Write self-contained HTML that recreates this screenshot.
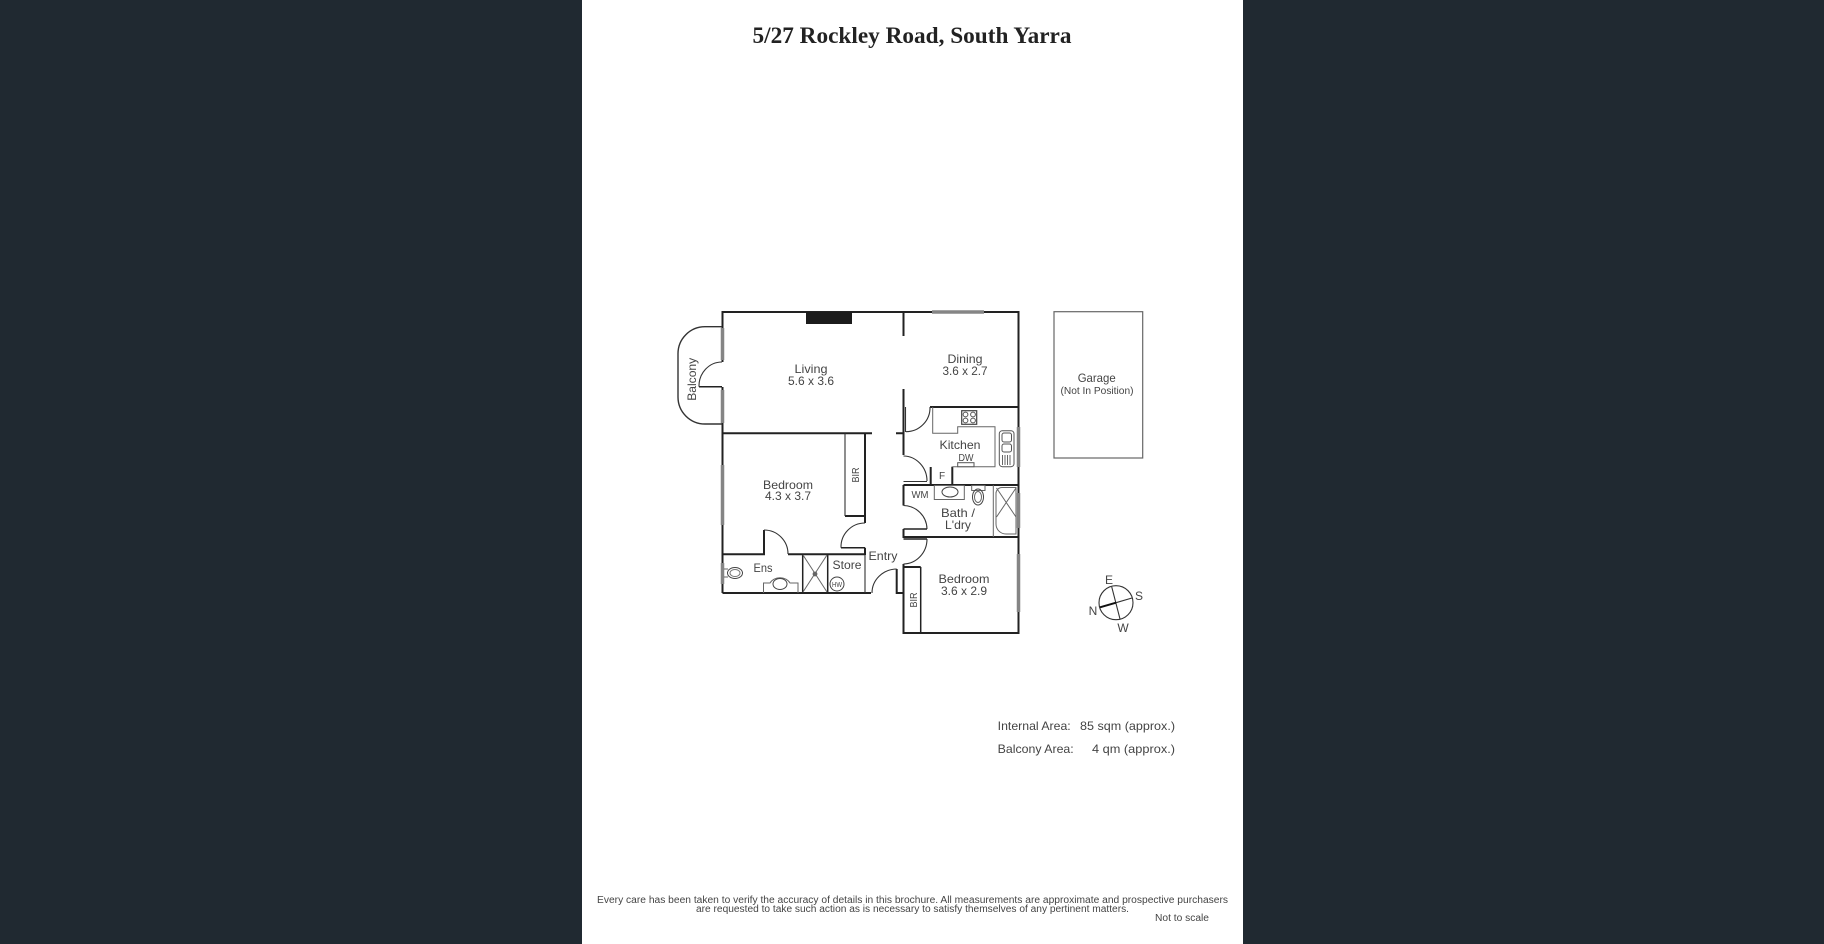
<!DOCTYPE html>
<html><head><meta charset="utf-8"><title>5/27 Rockley Road, South Yarra</title>
<style>
html,body{margin:0;padding:0;background:#202931;width:1824px;height:944px;overflow:hidden}
svg{display:block}
.c{filter:blur(0.35px)}
text{font-family:"Liberation Sans",sans-serif;fill:#444;font-size:12px;text-anchor:middle}
.s{font-size:10px}
.l{text-anchor:start}
.w{fill:none;stroke:#222;stroke-width:2}
.m{fill:none;stroke:#222;stroke-width:1.5}
.t{fill:none;stroke:#333;stroke-width:1.1}
.g{fill:none;stroke:#666;stroke-width:1}
.win{fill:none;stroke:#858585;stroke-width:3.5}
</style></head><body>
<svg width="1824" height="944" viewBox="0 0 1824 944" xmlns="http://www.w3.org/2000/svg">
<rect width="1824" height="944" fill="#202931"/>
<rect x="582" y="0" width="661" height="944" fill="#fff"/>
<g class="c">
<text x="912" y="43" textLength="319" lengthAdjust="spacingAndGlyphs" style="font-family:'Liberation Serif',serif;font-weight:bold;font-size:23px;fill:#222">5/27 Rockley Road, South Yarra</text>

<!-- outer walls -->
<path class="w" d="M722.5 362V312H932M984 312H1018.5V427M1018.5 467V493M1018.5 528V554M1018.5 612V633H903.5V564"/>
<path class="w" d="M722.5 387V465M722.5 525V563M722.5 584V593"/>
<path class="w" d="M903.5 312V336M903.5 389V455M903.5 485H1018.5M903.5 485V505.5M903.5 529V537H1018.5"/>
<path class="w" d="M722.5 433.3H872M896 433.3H903.5"/>
<path class="w" d="M722.5 593H871M896.7 569V593H903.5"/>
<path class="w" d="M845 516H865M865 433.3V523M865 547.7V555"/>
<path class="w" d="M722.5 554.3H764V530M788 554.3H865"/>
<path class="w" d="M903.5 567H920.7"/>
<path class="m" d="M920.7 567V633"/>
<path class="w" d="M930 407H1018.5"/>
<path class="w" d="M952.3 466.7V485"/>
<path class="w" d="M930.7 467V485"/>
<path class="m" d="M802.7 554V593M827.7 554V593"/>
<rect x="806" y="312" width="46" height="12" fill="#1c1c1c"/>
<!-- windows -->
<path class="win" d="M932 312H984M722.5 328V360M722.5 390V423M722.5 465V525M722.5 563V584M1018.5 427V467M1018.5 493V528M1018.5 554V612"/>
<!-- thin partitions -->
<path class="t" d="M845 433.3V516M865 555V593M905.5 407V432"/>
<!-- balcony -->
<path class="t" style="stroke-width:1.4" d="M722 326.7H705A27 27 0 0 0 678 354V397A27 27 0 0 0 705 424H722"/>
<path class="t" d="M722 362A23 24 0 0 0 699 386.7"/>
<path class="m" d="M699 386.7H722"/>
<!-- doors -->
<path class="t" d="M930 407A24 24 0 0 1 906 431.7"/>
<path class="t" d="M903.5 456A24 25 0 0 1 927 481M903.5 481.5H927"/>
<path class="t" d="M903.5 505.5A24 24 0 0 1 927 529"/>
<path class="m" d="M903.5 529H927M903.5 539H927"/>
<path class="t" d="M927 539A24 25 0 0 1 903.5 564"/>
<path class="t" d="M896.7 569A25 24 0 0 0 872 593"/>
<path class="t" d="M865 523A24 24 0 0 0 841 547.7"/>
<path class="m" d="M841 547.7H865"/>
<path class="t" d="M764 530A24 24 0 0 1 788 554"/>
<!-- kitchen bench -->
<path class="g" d="M932.7 407V433.3H957.7V426.7H995V466.7H952.3"/>
<rect x="961.7" y="410.7" width="15" height="13.6" fill="#fff" stroke="#444" stroke-width="1.2"/>
<g fill="none" stroke="#555" stroke-width="1"><circle cx="965.5" cy="414.5" r="2.4"/><circle cx="973" cy="414.5" r="2.4"/><circle cx="965.5" cy="420.5" r="2.4"/><circle cx="973" cy="420.5" r="2.4"/></g>
<rect x="999.3" y="430.7" width="14.7" height="36" rx="3" fill="#fff" stroke="#555"/>
<rect x="1002" y="433" width="9.5" height="9" rx="2" fill="none" stroke="#555"/>
<rect x="1002" y="444" width="9.5" height="8" rx="2" fill="none" stroke="#555"/>
<path class="g" d="M1002.5 455V465M1005 455V465M1007.5 455V465M1010 455V465"/>
<rect x="957.7" y="462.7" width="16.3" height="4" fill="#fff" stroke="#555"/>
<!-- bath -->
<rect x="934.3" y="485.5" width="30" height="14" fill="#fff" stroke="#666"/>
<ellipse cx="950" cy="492" rx="8" ry="5" fill="none" stroke="#444"/>
<rect x="971.7" y="485.5" width="13.3" height="5" fill="#fff" stroke="#666"/>
<ellipse cx="978" cy="497" rx="5.5" ry="8" fill="none" stroke="#444"/>
<ellipse cx="978" cy="497" rx="3.5" ry="5.5" fill="none" stroke="#666"/>
<path class="g" d="M993.3 485V537"/>
<path class="g" d="M996 494A6 6 0 0 1 1002 487.5H1016V534H1006A10 10 0 0 1 996 524Z"/>
<path class="g" d="M996.5 488L1016 517M1016 488L996.5 517"/>
<!-- ensuite -->
<ellipse cx="735" cy="573" rx="7.5" ry="5.5" fill="none" stroke="#444"/>
<ellipse cx="735" cy="573" rx="5" ry="3.5" fill="none" stroke="#777"/>
<path class="g" d="M724 569H728M724 577H728"/>
<path class="g" d="M763.5 593V583H770A11 9 0 0 1 790 583H798V593"/>
<ellipse cx="780" cy="584" rx="7" ry="5.5" fill="none" stroke="#444"/>
<path class="g" d="M803 555L827 592M827 555L803 592"/>
<circle cx="815" cy="574" r="2.4" fill="#666"/>
<circle cx="837" cy="584" r="7" fill="none" stroke="#444"/>
<!-- garage -->
<rect x="1054" y="311.7" width="88.7" height="146.3" fill="none" stroke="#666" stroke-width="1.2"/>
<!-- compass -->
<circle cx="1116" cy="602.7" r="17" fill="none" stroke="#333" stroke-width="1.1"/>
<path class="t" d="M1116 602.7L1132 598M1111.7 586.7L1120 619"/>
<path stroke="#111" stroke-width="2" d="M1100 607.3L1116 602.7"/>

<!-- labels -->
<text x="811" y="373" textLength="33" lengthAdjust="spacingAndGlyphs">Living</text>
<text x="811" y="385" textLength="46" lengthAdjust="spacingAndGlyphs">5.6 x 3.6</text>
<text x="965" y="363" textLength="35" lengthAdjust="spacingAndGlyphs">Dining</text>
<text x="965" y="375" textLength="45" lengthAdjust="spacingAndGlyphs">3.6 x 2.7</text>
<text x="960" y="449" textLength="41" lengthAdjust="spacingAndGlyphs">Kitchen</text>
<text class="s" x="966" y="461" textLength="15" lengthAdjust="spacingAndGlyphs">DW</text>
<text class="s" x="942" y="479">F</text>
<text class="s" transform="translate(859 475) rotate(-90)" textLength="15" lengthAdjust="spacingAndGlyphs">BIR</text>
<text x="788" y="489" textLength="50" lengthAdjust="spacingAndGlyphs">Bedroom</text>
<text x="788" y="500" textLength="46" lengthAdjust="spacingAndGlyphs">4.3 x 3.7</text>
<text class="s" x="920" y="498" textLength="17" lengthAdjust="spacingAndGlyphs">WM</text>
<text x="958" y="517" textLength="34" lengthAdjust="spacingAndGlyphs">Bath /</text>
<text x="958" y="529" textLength="26" lengthAdjust="spacingAndGlyphs">L'dry</text>
<text x="763" y="572" textLength="19" lengthAdjust="spacingAndGlyphs">Ens</text>
<text x="847" y="569" textLength="29" lengthAdjust="spacingAndGlyphs">Store</text>
<text x="883" y="560" textLength="29" lengthAdjust="spacingAndGlyphs">Entry</text>
<text x="837" y="587" style="font-size:7px" textLength="10" lengthAdjust="spacingAndGlyphs">HW</text>
<text x="964" y="583" textLength="51" lengthAdjust="spacingAndGlyphs">Bedroom</text>
<text x="964" y="595" textLength="46" lengthAdjust="spacingAndGlyphs">3.6 x 2.9</text>
<text class="s" transform="translate(917 600) rotate(-90)" textLength="15" lengthAdjust="spacingAndGlyphs">BIR</text>
<text transform="translate(696 379.3) rotate(-90)" textLength="43" lengthAdjust="spacingAndGlyphs">Balcony</text>
<text x="1096.7" y="382" textLength="38" lengthAdjust="spacingAndGlyphs">Garage</text>
<text class="s" x="1097" y="394" textLength="73" lengthAdjust="spacingAndGlyphs">(Not In Position)</text>
<text class="s" x="1109" y="584" style="font-size:12px">E</text>
<text class="s" x="1139" y="600" style="font-size:12px">S</text>
<text class="s" x="1093" y="615" style="font-size:12px">N</text>
<text class="s" x="1123" y="632" style="font-size:12px">W</text>
<text class="l" x="997.7" y="730" textLength="73" lengthAdjust="spacingAndGlyphs">Internal Area:</text>
<text class="l" x="1080" y="730" textLength="95" lengthAdjust="spacingAndGlyphs">85 sqm (approx.)</text>
<text class="l" x="997.7" y="753" textLength="76" lengthAdjust="spacingAndGlyphs">Balcony Area:</text>
<text class="l" x="1092" y="753" textLength="83" lengthAdjust="spacingAndGlyphs">4 qm (approx.)</text>
<text class="s l" x="597" y="903" textLength="631" lengthAdjust="spacingAndGlyphs">Every care has been taken to verify the accuracy of details in this brochure.  All measurements are approximate and prospective purchasers</text>
<text class="s l" x="696" y="912" textLength="433" lengthAdjust="spacingAndGlyphs">are requested to take such action as is necessary to satisfy themselves of any pertinent matters.</text>
<text class="s" x="1182" y="921" textLength="54" lengthAdjust="spacingAndGlyphs">Not to scale</text>
</g>
</svg>
</body></html>
